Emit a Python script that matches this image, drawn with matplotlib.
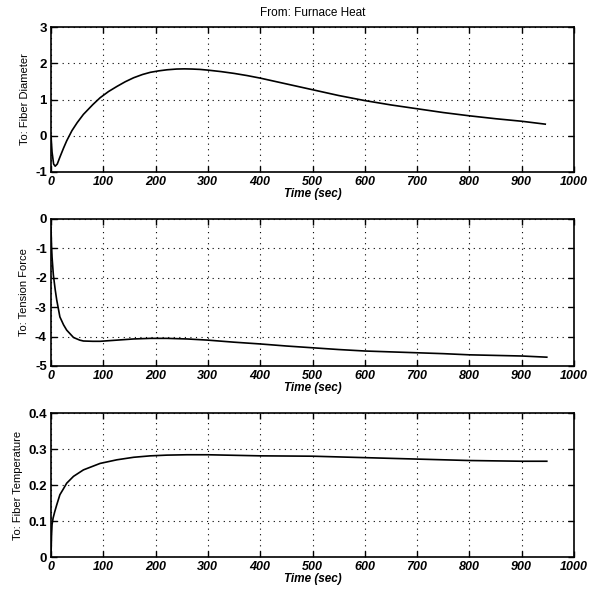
import matplotlib
matplotlib.use("Agg")
import matplotlib.pyplot as plt
import numpy as np

plt.rcParams['font.family'] = ['Liberation Sans', 'DejaVu Sans']

title = "From: Furnace Heat"
xlabel = "Time (sec)"
ylabels = ["To: Fiber Diameter", "To: Tension Force", "To: Fiber Temperature"]
xticks = [0, 100, 200, 300, 400, 500, 600, 700, 800, 900, 1000]

t_diam = [0, 2, 5, 8, 12, 17, 24, 30, 40, 50, 62, 80, 94, 110, 126, 142, 158, 175, 190, 206, 222, 240, 255, 270, 285, 300, 325, 350, 375, 400, 450, 500, 550, 600, 650, 700, 750, 800, 850, 900, 945]
y_diam = [0, -0.45, -0.78, -0.84, -0.78, -0.59, -0.34, -0.14, 0.14, 0.36, 0.59, 0.86, 1.05, 1.22, 1.36, 1.49, 1.60, 1.69, 1.75, 1.79, 1.82, 1.84, 1.845, 1.84, 1.83, 1.81, 1.77, 1.72, 1.66, 1.59, 1.43, 1.27, 1.11, 0.97, 0.85, 0.745, 0.64, 0.55, 0.47, 0.40, 0.32]

t_tens = [0, 1, 2, 4.5, 8, 11, 17, 24, 30, 43, 55, 62, 80, 94, 126, 158, 190, 222, 260, 300, 350, 400, 450, 500, 550, 600, 650, 700, 750, 800, 850, 900, 948]
y_tens = [-0.3, -0.9, -1.3, -1.9, -2.4, -2.76, -3.33, -3.6, -3.78, -4.03, -4.12, -4.15, -4.16, -4.16, -4.12, -4.08, -4.06, -4.06, -4.08, -4.12, -4.19, -4.25, -4.32, -4.38, -4.44, -4.49, -4.52, -4.55, -4.58, -4.62, -4.64, -4.66, -4.70]

t_temp = [0, 1, 2, 4, 7, 11, 17, 24, 30, 43, 62, 94, 126, 158, 190, 222, 260, 300, 400, 500, 600, 700, 800, 900, 948]
y_temp = [0.0, 0.06, 0.09, 0.108, 0.125, 0.145, 0.173, 0.19, 0.205, 0.224, 0.242, 0.26, 0.27, 0.277, 0.281, 0.283, 0.284, 0.284, 0.281, 0.280, 0.276, 0.272, 0.268, 0.266, 0.266]

series = [(t_diam, y_diam, (-1, 3), [-1, 0, 1, 2, 3], ["-1", "0", "1", "2", "3"]),
          (t_tens, y_tens, (-5, 0), [-5, -4, -3, -2, -1, 0], ["-5", "-4", "-3", "-2", "-1", "0"]),
          (t_temp, y_temp, (0, 0.4), [0, 0.1, 0.2, 0.3, 0.4], ["0", "0.1", "0.2", "0.3", "0.4"])]

fig = plt.figure(figsize=(5.92, 5.94), dpi=100)
W = 592.0
H = 594.0
boxes = [(27, 172), (219, 366), (413, 557)]
left, right = 51, 574

for i, ((t, y, ylim, yt, ytl), (top, bot)) in enumerate(zip(series, boxes)):
    ax = fig.add_axes([left / W, 1 - bot / H, (right - left) / W, (bot - top) / H])
    ax.plot(t, y, color='black', lw=1.2)
    ax.set_xlim(0, 1000)
    ax.set_ylim(*ylim)
    ax.set_xticks(xticks)
    ax.set_xticklabels([str(v) for v in xticks], fontsize=9, fontweight='bold', fontstyle='italic')
    ax.set_yticks(yt)
    ax.set_yticklabels(ytl, fontsize=9.5, fontweight='bold')
    ax.tick_params(direction='in', top=True, right=True, length=4, width=1, pad=3)
    ax.grid(True, color='black', linestyle=(0, (1, 4)), linewidth=0.8)
    for sp in ax.spines.values():
        sp.set_linewidth(1.2)
    ax.set_xlabel(xlabel, fontsize=8.5, fontweight='bold', fontstyle='italic', labelpad=0)
    ax.set_ylabel(ylabels[i], fontsize=8, labelpad=4)
    if i == 0:
        ax.set_title(title, fontsize=8.5, pad=8)

fig.savefig("out.png", dpi=100)
